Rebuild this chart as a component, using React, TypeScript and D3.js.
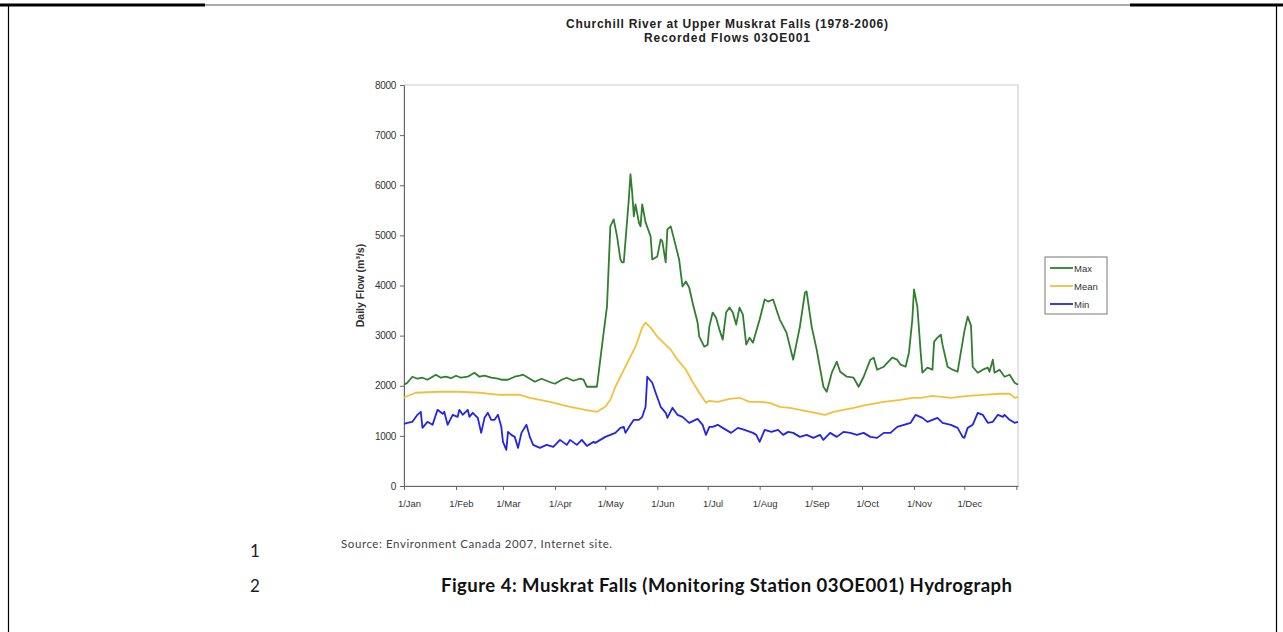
import * as d3 from 'd3';
import { useEffect, useRef } from 'react';

const maxFlow: [number, number][] = [
  [0, 2020], [2, 2060], [5, 2180], [8, 2140], [11, 2160], [14, 2120], [17, 2180], [19, 2220], [22, 2160],
  [25, 2180], [28, 2150], [31, 2200], [34, 2160], [38, 2180], [42, 2260], [45, 2180], [48, 2200], [52, 2160],
  [56, 2140], [58, 2120], [62, 2120], [66, 2180], [69, 2200], [71, 2220], [75, 2140], [78, 2080], [82, 2140],
  [85, 2100], [88, 2060], [90, 2040], [94, 2120], [97, 2160], [101, 2100], [105, 2140], [107, 2120], [109, 1980],
  [112, 1980], [115, 1980], [117, 2520], [119, 3060], [121, 3580], [123, 5180], [125, 5320], [127, 4980],
  [129, 4520], [130, 4460], [131, 4460], [134, 5720], [135, 6220], [136, 5860], [137, 5380], [138, 5620],
  [140, 5260], [141, 5180], [142, 5620], [144, 5260], [147, 4980], [148, 4520], [151, 4580], [153, 4920],
  [154, 4880], [156, 4460], [157, 5120], [159, 5180], [161, 4920], [164, 4520], [166, 3980], [168, 4080],
  [170, 3960], [172, 3660], [175, 3260], [176, 2980], [179, 2780], [181, 2820], [182, 3180], [184, 3460],
  [186, 3360], [188, 3120], [190, 2920], [192, 3460], [194, 3560], [196, 3460], [198, 3220], [200, 3560],
  [202, 3420], [204, 2820], [206, 2960], [208, 2860], [212, 3320], [215, 3720], [217, 3680], [220, 3720],
  [224, 3320], [228, 3060], [232, 2520], [236, 3180], [239, 3860], [240, 3880], [243, 3180], [246, 2720],
  [250, 1980], [252, 1880], [255, 2260], [258, 2480], [260, 2280], [264, 2180], [268, 2160], [271, 1980],
  [274, 2180], [278, 2520], [280, 2560], [282, 2320], [286, 2380], [291, 2560], [294, 2520], [296, 2420],
  [299, 2380], [301, 2660], [303, 3320], [304, 3920], [306, 3580], [308, 2660], [309, 2260], [312, 2360],
  [315, 2320], [316, 2880], [318, 2960], [320, 3020], [321, 2820], [324, 2380], [327, 2320], [330, 2280],
  [334, 3080], [336, 3380], [338, 3200], [339, 2380], [342, 2260], [345, 2320], [348, 2360], [349, 2280],
  [351, 2520], [352, 2260], [355, 2320], [358, 2180], [361, 2220], [364, 2060], [366, 2020],
];

const meanFlow: [number, number][] = [
  [0, 1760], [1, 1780], [7, 1860], [21, 1880], [33, 1880], [45, 1860], [57, 1820], [69, 1820], [75, 1760],
  [87, 1680], [99, 1580], [108, 1520], [115, 1480], [120, 1580], [123, 1720], [126, 1980], [132, 2380],
  [138, 2780], [142, 3160], [144, 3260], [147, 3160], [151, 2980], [154, 2880], [159, 2720], [163, 2520],
  [168, 2320], [172, 2080], [176, 1860], [180, 1660], [182, 1700], [187, 1680], [194, 1740], [200, 1760],
  [206, 1680], [212, 1680], [218, 1660], [224, 1580], [230, 1560], [236, 1520], [242, 1480], [248, 1440],
  [251, 1420], [256, 1480], [262, 1520], [268, 1560], [276, 1620], [286, 1680], [296, 1720], [303, 1760],
  [308, 1760], [315, 1800], [326, 1760], [336, 1800], [345, 1820], [355, 1840], [361, 1840], [364, 1760],
  [366, 1780],
];

const minFlow: [number, number][] = [
  [0, 1240], [2, 1260], [5, 1280], [8, 1420], [10, 1480], [11, 1160], [14, 1280], [17, 1220], [20, 1520],
  [23, 1440], [24, 1480], [26, 1220], [29, 1420], [32, 1380], [33, 1520], [35, 1420], [38, 1520], [39, 1380],
  [41, 1460], [44, 1360], [46, 1060], [48, 1360], [50, 1460], [52, 1320], [54, 1320], [56, 1420], [58, 1180],
  [59, 880], [61, 720], [62, 1080], [64, 1020], [66, 980], [68, 760], [70, 1060], [73, 1220], [75, 980],
  [77, 820], [81, 760], [85, 820], [89, 780], [93, 920], [97, 820], [99, 920], [103, 820], [106, 920],
  [109, 800], [113, 880], [114, 860], [117, 920], [120, 980], [123, 1020], [126, 1060], [129, 1160],
  [131, 1180], [132, 1060], [135, 1220], [137, 1320], [140, 1320], [142, 1380], [144, 1580], [145, 2180],
  [148, 2060], [150, 1860], [153, 1580], [156, 1460], [157, 1360], [160, 1560], [163, 1420], [166, 1380],
  [170, 1260], [175, 1340], [178, 1220], [180, 1020], [182, 1180], [184, 1180], [187, 1220], [190, 1160],
  [195, 1060], [199, 1160], [203, 1120], [208, 1060], [210, 1020], [212, 880], [215, 1120], [219, 1080],
  [223, 1120], [226, 1020], [229, 1080], [232, 1060], [236, 980], [240, 1020], [244, 960], [248, 1020],
  [250, 920], [254, 1060], [258, 980], [262, 1080], [266, 1060], [270, 1020], [274, 1060], [278, 980],
  [282, 960], [286, 1060], [290, 1060], [294, 1180], [298, 1220], [302, 1260], [305, 1420], [309, 1360],
  [312, 1280], [318, 1360], [321, 1260], [326, 1220], [330, 1160], [333, 980], [334, 960], [336, 1160],
  [339, 1220], [342, 1460], [345, 1420], [348, 1260], [351, 1280], [354, 1420], [357, 1380], [358, 1420],
  [361, 1320], [364, 1260], [366, 1280],
];

const monthStarts = [0, 31, 59, 90, 120, 151, 181, 212, 243, 273, 304, 334];
const monthLabels = ['1/Jan', '1/Feb', '1/Mar', '1/Apr', '1/May', '1/Jun', '1/Jul', '1/Aug', '1/Sep', '1/Oct', '1/Nov', '1/Dec'];
const yTicks = [0, 1000, 2000, 3000, 4000, 5000, 6000, 7000, 8000];

const series = [
  { name: 'Max', data: maxFlow, color: '#2f7f2f' },
  { name: 'Mean', data: meanFlow, color: '#f4c03c' },
  { name: 'Min', data: minFlow, color: '#2424e8' },
];

export default function App() {
  const svgRef = useRef<SVGSVGElement>(null);

  useEffect(() => {
    drawChart(svgRef.current);
  }, [svgRef]);

  return (
    <svg ref={svgRef} width={1283} height={632}
      style={{ position: 'absolute', left: 0, top: 0, display: 'block', background: '#fff' }} />
  );
}

function drawChart(el: SVGSVGElement | null) {
  if (!el) return;
  const svg = d3.select(el);
  svg.selectAll('*').remove();

  const left = 404, right = 1018, top = 85, bottom = 486;
  const x = d3.scaleLinear().domain([0, 366]).range([left, right]);
  const y = d3.scaleLinear().domain([0, 8000]).range([bottom, top]);

  // page borders
  svg.append('line').attr('x1', 0).attr('x2', 205).attr('y1', 5).attr('y2', 5)
    .attr('stroke', '#000').attr('stroke-width', 3);
  svg.append('line').attr('x1', 1130).attr('x2', 1283).attr('y1', 5).attr('y2', 5)
    .attr('stroke', '#000').attr('stroke-width', 3);
  svg.append('line').attr('x1', 205).attr('x2', 1130).attr('y1', 5).attr('y2', 5)
    .attr('stroke', '#555').attr('stroke-width', 1);
  svg.append('line').attr('x1', 8.5).attr('x2', 8.5).attr('y1', 5).attr('y2', 632)
    .attr('stroke', '#000').attr('stroke-width', 1.2);
  svg.append('line').attr('x1', 1276.5).attr('x2', 1276.5).attr('y1', 5).attr('y2', 632)
    .attr('stroke', '#000').attr('stroke-width', 1.2);

  const axisFont = 'Liberation Sans, Arial, sans-serif';

  // titles
  const title = svg.append('text').attr('text-anchor', 'middle')
    .attr('font-family', axisFont).attr('font-weight', 'bold')
    .attr('font-size', 12).attr('fill', '#222');
  title.append('tspan').attr('x', 727).attr('y', 28).attr('textLength', 322).attr('lengthAdjust', 'spacing')
    .text('Churchill River at Upper Muskrat Falls (1978-2006)');
  title.append('tspan').attr('x', 727).attr('y', 42).attr('textLength', 166).attr('lengthAdjust', 'spacing')
    .text('Recorded Flows 03OE001');

  // plot area border
  svg.append('rect').attr('x', left).attr('y', top).attr('width', right - left).attr('height', bottom - top)
    .attr('fill', 'none').attr('stroke', '#c8c8c8').attr('stroke-width', 1);

  const yAxis = svg.append('g').attr('transform', `translate(${left},0)`)
    .call(d3.axisLeft(y).tickValues(yTicks).tickSize(4).tickSizeOuter(0).tickPadding(4).tickFormat(d3.format('d')));
  yAxis.select('.domain').attr('stroke', '#666');
  yAxis.selectAll('.tick line').attr('stroke', '#666');
  yAxis.selectAll('text').attr('font-family', axisFont).attr('font-size', 10).attr('fill', '#333')
    .attr('letter-spacing', -0.3);

  const xAxis = svg.append('g').attr('transform', `translate(0,${bottom})`)
    .call(d3.axisBottom(x).tickValues([...monthStarts, 365]).tickSize(4).tickSizeOuter(0).tickPadding(10)
      .tickFormat((d, i) => monthLabels[i] ?? ''));
  xAxis.select('.domain').attr('stroke', '#666');
  xAxis.selectAll('.tick line').attr('stroke', '#666');
  xAxis.selectAll('text').attr('font-family', axisFont).attr('font-size', 9.5).attr('fill', '#333')
    .attr('dx', 5);

  svg.append('text').attr('transform', `translate(364,${(top + bottom) / 2}) rotate(-90)`)
    .attr('text-anchor', 'middle').attr('font-family', axisFont).attr('font-weight', 'bold')
    .attr('font-size', 10.5).attr('fill', '#333').text('Daily Flow (m³/s)');

  const line = d3.line<[number, number]>().x(d => x(d[0])).y(d => y(d[1]));

  series.forEach(s => {
    svg.append('path').datum(s.data).attr('d', line).attr('fill', 'none')
      .attr('stroke', s.color).attr('stroke-width', 1.8).attr('stroke-linejoin', 'round');
  });

  // legend
  const lg = svg.append('g').attr('transform', 'translate(1045,257)');
  lg.append('rect').attr('width', 62).attr('height', 57).attr('fill', '#fff')
    .attr('stroke', '#777').attr('stroke-width', 1);
  series.forEach((s, i) => {
    const ly = 11 + i * 18;
    lg.append('line').attr('x1', 5).attr('x2', 28).attr('y1', ly).attr('y2', ly)
      .attr('stroke', s.color).attr('stroke-width', 1.8);
    lg.append('text').attr('x', 29).attr('y', ly + 3.5).attr('font-family', axisFont)
      .attr('font-size', 9.5).attr('fill', '#333').text(s.name);
  });

  // source and caption
  svg.append('text').attr('x', 341).attr('y', 548).attr('font-family', 'Lato, sans-serif')
    .attr('font-size', 11.5).attr('fill', '#444').attr('textLength', 271).attr('lengthAdjust', 'spacing')
    .text('Source: Environment Canada 2007, Internet site.');
  svg.append('text').attr('x', 250).attr('y', 557).attr('font-family', 'Lato, sans-serif')
    .attr('font-size', 17).attr('fill', '#222').text('1');
  svg.append('text').attr('x', 250).attr('y', 592).attr('font-family', 'Lato, sans-serif')
    .attr('font-size', 17).attr('fill', '#222').text('2');
  svg.append('text').attr('x', 441).attr('y', 592).attr('font-family', 'Lato, sans-serif')
    .attr('font-weight', 'bold').attr('font-size', 18.5).attr('fill', '#111')
    .attr('textLength', 571).attr('lengthAdjust', 'spacing')
    .text('Figure 4: Muskrat Falls (Monitoring Station 03OE001) Hydrograph');
}
